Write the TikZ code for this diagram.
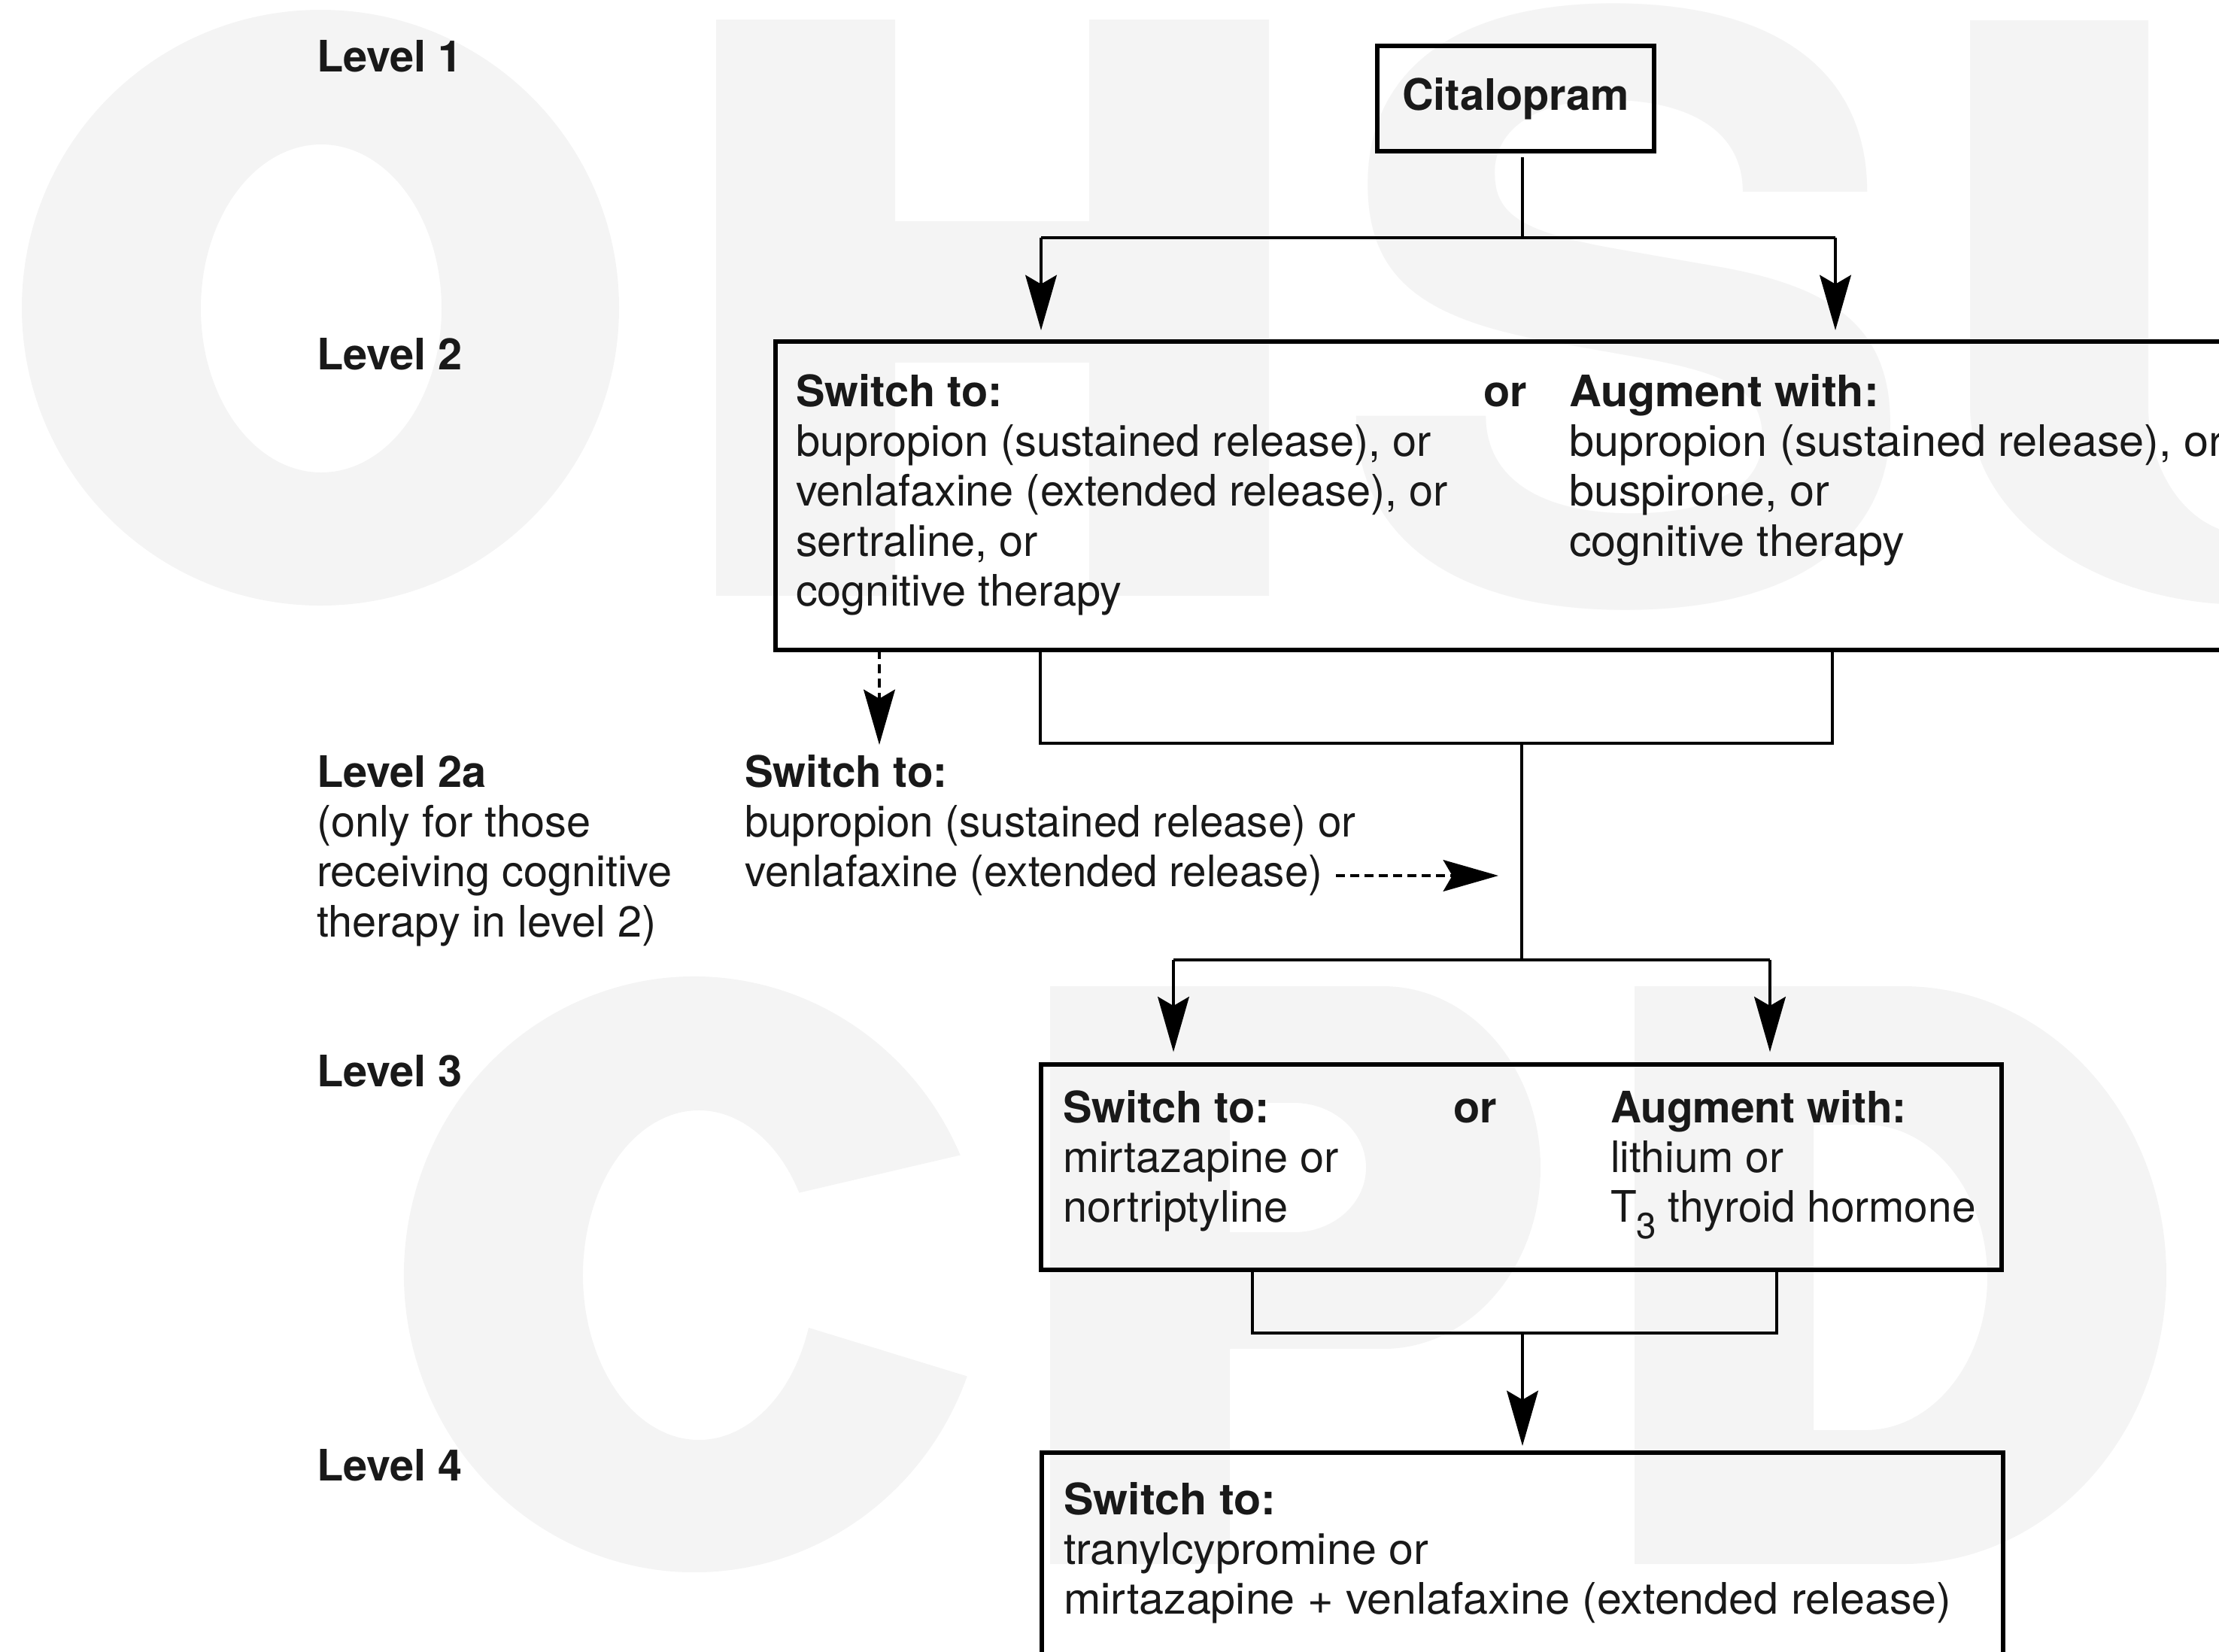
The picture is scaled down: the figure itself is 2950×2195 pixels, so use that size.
\documentclass[tikz,border=0pt]{standalone}
\usepackage{fontspec}
\usepackage{graphicx}
\setmainfont{TeX Gyre Heros}
\usetikzlibrary{arrows.meta,calc}
\definecolor{wm}{RGB}{244,244,244}
\newcommand{\diagfont}{\fontsize{17.3pt}{19.9pt}\selectfont}
\begin{document}
\begin{tikzpicture}[x=0.3pt,y=-0.3pt,
  txt/.style={inner sep=0pt, outer sep=0pt, anchor=base west, font=\diagfont, text=black!90},
  btxt/.style={txt, font=\diagfont\bfseries},
  boxnode/.style={draw=black, line width=1.6pt, rectangle, inner sep=0pt, outer sep=0pt},
  conn/.style={draw=black, line width=1.2pt},
  arr/.style={-{Stealth[length=22pt,width=12.5pt,inset=3.6pt]}},
  dashpat/.style={dash pattern=on 3.6pt off 2.1pt, line width=1.3pt}]
\useasboundingbox (0,0) rectangle (2950,2195);
\clip (0,0) rectangle (2950,2195);

% ---------- watermark ----------
% O
\fill[wm, even odd rule] (426,409) ellipse[x radius=397, y radius=396]
  (427,410) ellipse[x radius=160, y radius=218];
% H
\fill[wm] (952,26) -- (1190,26) -- (1190,294) -- (1448,294) -- (1448,26) -- (1687,26)
  -- (1687,792) -- (1448,792) -- (1448,482) -- (1190,482) -- (1190,792) -- (952,792) -- cycle;
% S
\node[inner sep=0pt, text=wm] (wmS) at (2160,408) {\resizebox{236pt}{238pt}{\bfseries S}};
% U
\fill[wm] (2619,27) -- (2619,540) arc[start angle=180, end angle=0, x radius=368, y radius=264]
  -- (3355,27) -- (3118,27) -- (3118,540) arc[start angle=0, end angle=180, x radius=131, y radius=170]
  -- (2856,27) -- cycle;
% C
\fill[wm] ($(923,1694)+(-23.6:386 and 396)$) arc[start angle=-23.6, end angle=-340, x radius=386, y radius=396]
  -- ($(929,1695)+(-341.4:154 and 219)$) arc[start angle=-341.4, end angle=-30, x radius=154, y radius=219]
  -- cycle;
% P
\fill[wm, even odd rule] (1396,1311) -- (1839,1311) arc[start angle=-90, end angle=90, x radius=209, y radius=241]
  -- (1635,1793) -- (1635,2079) -- (1396,2079) -- cycle
  (1635,1466) -- (1720,1466) arc[start angle=-90, end angle=90, x radius=96, y radius=86]
  -- (1635,1638) -- cycle;
% D
\fill[wm, even odd rule] (2173,1311) -- (2530,1311) arc[start angle=-90, end angle=90, x radius=350, y radius=384]
  -- (2173,2079) -- cycle
  (2411,1495) -- (2480,1495) arc[start angle=-90, end angle=90, x radius=162, y radius=203]
  -- (2411,1901) -- cycle;

% ---------- level labels ----------
\node[btxt] (L1) at (421,95) {Level 1};
\node[btxt] (L2) at (421,491) {Level 2};
\node[txt] (L2a) at (421,1046) {\vtop{\hbox{\bfseries Level 2a}\hbox{(only for those}\hbox{receiving cognitive}\hbox{therapy in level 2)}}};
\node[btxt] (L3) at (421,1444) {Level 3};
\node[btxt] (L4) at (421,1968) {Level 4};

% ---------- boxes ----------
\node[boxnode, minimum width=110.4pt, minimum height=42pt, font=\diagfont\bfseries, text=black!90] (cit) at (2015,131) {Citalopram};
\node[boxnode, anchor=north west, minimum width=590.7pt, minimum height=123pt] (box2) at (1031,454) {};
\node[boxnode, anchor=north west, minimum width=383.1pt, minimum height=81.9pt] (box3) at (1384,1415) {};
\node[boxnode, anchor=north west, minimum width=383.4pt, minimum height=120pt] (box4) at (1385,1931) {};

% box 2 text
\node[txt] (b2s) at (1058,540) {\vtop{\hbox{\bfseries Switch to:}\hbox{bupropion (sustained release), or}\hbox{venlafaxine (extended release), or}\hbox{sertraline, or}\hbox{cognitive therapy}}};
\node[btxt] (b2or) at (1972,540) {or};
\node[txt, xscale=1.03] (b2a) at (2086,540) {\vtop{\hbox{\bfseries Augment with:}\hbox{bupropion (sustained release), or}\hbox{buspirone, or}\hbox{cognitive therapy}}};

% level 2a text
\node[txt, xscale=0.98] (s2a) at (990,1046) {\vtop{\hbox{\bfseries Switch to:}\hbox{bupropion (sustained release) or}\hbox{venlafaxine (extended release)}}};

% box 3 text
\node[txt] (b3s) at (1413,1492) {\vtop{\hbox{\bfseries Switch to:}\hbox{mirtazapine or}\hbox{nortriptyline}}};
\node[btxt] (b3or) at (1932,1492) {or};
\node[txt, xscale=0.985] (b3a) at (2141,1492) {\vtop{\hbox{\bfseries Augment with:}\hbox{lithium or}\hbox{T\raisebox{-6.6pt}{\fontsize{14.5pt}{14.5pt}\selectfont 3} thyroid hormone}}};

% box 4 text
\node[txt, xscale=1.027] (b4s) at (1414,2013) {\vtop{\hbox{\bfseries Switch to:}\hbox{tranylcypromine or}\hbox{mirtazapine + venlafaxine (extended release)}}};

% ---------- connectors ----------
\coordinate (xa) at (2024,316);
\coordinate (xl) at (1384,316);
\coordinate (xr) at (2440,316);
\draw[conn, shorten <=2.5pt] (xa |- cit.south) -- (xa);
\draw[conn] (xl) -- (xr);
\draw[conn, arr, shorten >=4.5pt] (xl) -- (xl |- box2.north);
\draw[conn, arr, shorten >=4.5pt] (xr) -- (xr |- box2.north);

\coordinate (b2l) at (1383,988);
\coordinate (b2r) at (2436,988);
\coordinate (tr1) at (2023,988);
\coordinate (tr2) at (2023,1276);
\draw[conn] (b2l |- box2.south) -- (b2l) -- (b2r) -- (b2r |- box2.south);
\draw[conn] (tr1) -- (tr2);

\coordinate (dv) at (1169,990);
\draw[conn, dashpat, arr] (dv |- box2.south) -- (dv);
\coordinate (dh) at (1776,1164);
\coordinate (jh) at (2023,1164);
\draw[conn, dashpat, arr, shorten >=9.3pt] (dh) -- (jh);

\coordinate (l3) at (1560,1276);
\coordinate (r3) at (2353,1276);
\draw[conn] (l3) -- (r3);
\draw[conn, arr, shorten >=5pt] (l3) -- (l3 |- box3.north);
\draw[conn, arr, shorten >=5pt] (r3) -- (r3 |- box3.north);

\coordinate (b3l) at (1665,1772);
\coordinate (b3r) at (2362,1772);
\coordinate (tr3) at (2024,1772);
\draw[conn] (b3l |- box3.south) -- (b3l) -- (b3r) -- (b3r |- box3.south);
\draw[conn, arr, shorten >=2.7pt] (tr3) -- (tr3 |- box4.north);
\end{tikzpicture}
\end{document}
